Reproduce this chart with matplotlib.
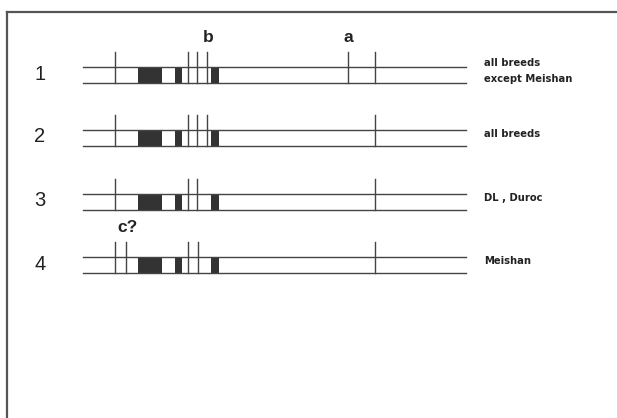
import matplotlib
matplotlib.use("Agg")
import matplotlib.pyplot as plt
from matplotlib.patches import Rectangle

# map positions along the segment (same units as the drawing)
row_names = ["1", "2", "3", "4"]
row_labels = [["all breeds", "except Meishan"], ["all breeds"], ["DL , Duroc"], ["Meishan"]]
sites = [
    [115, 188, 197, 207, 348, 375],
    [115, 188, 197, 207, 375],
    [115, 188, 197, 375],
    [115, 126, 188, 198, 375],
]
blocks = [(138, 162), (175, 182), (211, 219)]
site_tags = [("b", 208, 0), ("a", 348, 0), ("c?", 127, 3)]

seg_start, seg_end = 83, 466
row_top = [67, 130, 194, 257]
gap = 16
tick_up = 15

fig = plt.figure(figsize=(6.17, 4.18), dpi=100)
ax = fig.add_axes([0, 0, 1, 1])
ax.set_xlim(0, 617)
ax.set_ylim(418, 0)
ax.axis("off")

# frame (top and left edges)
ax.plot([7, 617], [12, 12], color="#555555", lw=1.6)
ax.plot([7, 7], [12, 418], color="#555555", lw=1.6)

for i, top in enumerate(row_top):
    bot = top + gap
    ax.plot([seg_start, seg_end], [top, top], color="#444444", lw=1.0)
    ax.plot([seg_start, seg_end], [bot, bot], color="#444444", lw=1.0)
    for x0, x1 in blocks:
        ax.add_patch(Rectangle((x0, top), x1 - x0, gap, color="#333333", lw=0))
    for x in sites[i]:
        ax.plot([x, x], [top - tick_up, bot], color="#444444", lw=1.0)
    ax.text(40, top + gap / 2 - 1, row_names[i], fontsize=14.5, ha="center", va="center",
            family="Liberation Sans", color="#222222")
    labs = row_labels[i]
    if len(labs) == 2:
        ax.text(484, top - 4, labs[0], fontsize=7.2, va="center", fontweight="bold", color="#222222")
        ax.text(484, top + 12, labs[1], fontsize=7.2, va="center", fontweight="bold", color="#222222")
    else:
        ax.text(484, top + 4, labs[0], fontsize=7.2, va="center", fontweight="bold", color="#222222")

for tag, x, r in site_tags:
    ax.text(x, row_top[r] - tick_up - 14, tag, fontsize=12.5, ha="center", va="center",
            family="Liberation Sans", fontweight="bold", color="#222222")

fig.savefig("out.png", dpi=100)
